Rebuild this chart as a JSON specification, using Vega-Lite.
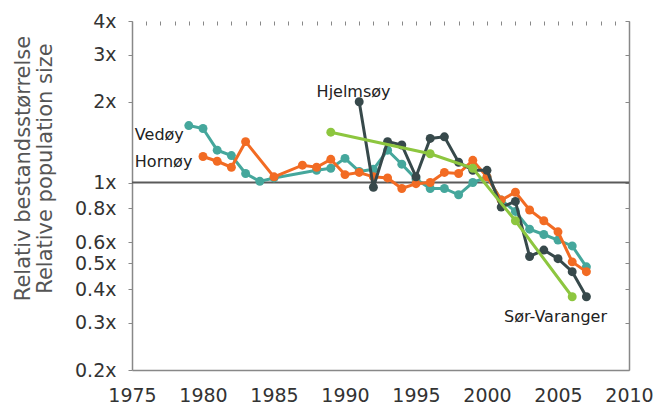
{
  "$schema": "https://vega.github.io/schema/vega-lite/v6.json",
  "width": 497,
  "height": 349,
  "autosize": "none",
  "padding": {"left": 132, "top": 21, "right": 26, "bottom": 36},
  "background": "white",
  "config": {
    "view": {"stroke": null},
    "font": "DejaVu Sans",
    "axis": {"labelFont": "DejaVu Sans", "titleFont": "DejaVu Sans", "grid": false, "labelOverlap": false, "labelFlush": false}
  },
  "datasets": {
    "series": [
      {"site": "Vedøy", "year": 1979, "value": 1.63},
      {"site": "Vedøy", "year": 1980, "value": 1.59},
      {"site": "Vedøy", "year": 1981, "value": 1.32},
      {"site": "Vedøy", "year": 1982, "value": 1.26},
      {"site": "Vedøy", "year": 1983, "value": 1.08},
      {"site": "Vedøy", "year": 1984, "value": 1.01},
      {"site": "Vedøy", "year": 1985, "value": 1.04},
      {"site": "Vedøy", "year": 1988, "value": 1.11},
      {"site": "Vedøy", "year": 1989, "value": 1.13},
      {"site": "Vedøy", "year": 1990, "value": 1.23},
      {"site": "Vedøy", "year": 1991, "value": 1.10},
      {"site": "Vedøy", "year": 1992, "value": 1.12},
      {"site": "Vedøy", "year": 1993, "value": 1.32},
      {"site": "Vedøy", "year": 1994, "value": 1.17},
      {"site": "Vedøy", "year": 1995, "value": 1.03},
      {"site": "Vedøy", "year": 1996, "value": 0.95},
      {"site": "Vedøy", "year": 1997, "value": 0.95},
      {"site": "Vedøy", "year": 1998, "value": 0.9},
      {"site": "Vedøy", "year": 1999, "value": 1.0},
      {"site": "Vedøy", "year": 2000, "value": 1.05},
      {"site": "Vedøy", "year": 2001, "value": 0.86},
      {"site": "Vedøy", "year": 2002, "value": 0.78},
      {"site": "Vedøy", "year": 2003, "value": 0.67},
      {"site": "Vedøy", "year": 2004, "value": 0.64},
      {"site": "Vedøy", "year": 2005, "value": 0.61},
      {"site": "Vedøy", "year": 2006, "value": 0.58},
      {"site": "Vedøy", "year": 2007, "value": 0.485},
      {"site": "Hornøy", "year": 1980, "value": 1.25},
      {"site": "Hornøy", "year": 1981, "value": 1.2},
      {"site": "Hornøy", "year": 1982, "value": 1.14},
      {"site": "Hornøy", "year": 1983, "value": 1.42},
      {"site": "Hornøy", "year": 1985, "value": 1.05},
      {"site": "Hornøy", "year": 1987, "value": 1.16},
      {"site": "Hornøy", "year": 1988, "value": 1.14},
      {"site": "Hornøy", "year": 1989, "value": 1.22},
      {"site": "Hornøy", "year": 1990, "value": 1.07},
      {"site": "Hornøy", "year": 1991, "value": 1.09},
      {"site": "Hornøy", "year": 1992, "value": 1.05},
      {"site": "Hornøy", "year": 1993, "value": 1.04},
      {"site": "Hornøy", "year": 1994, "value": 0.95},
      {"site": "Hornøy", "year": 1995, "value": 0.99},
      {"site": "Hornøy", "year": 1996, "value": 1.0},
      {"site": "Hornøy", "year": 1997, "value": 1.09},
      {"site": "Hornøy", "year": 1998, "value": 1.08},
      {"site": "Hornøy", "year": 1999, "value": 1.21},
      {"site": "Hornøy", "year": 2000, "value": 1.05},
      {"site": "Hornøy", "year": 2001, "value": 0.86},
      {"site": "Hornøy", "year": 2002, "value": 0.92},
      {"site": "Hornøy", "year": 2003, "value": 0.79},
      {"site": "Hornøy", "year": 2004, "value": 0.72},
      {"site": "Hornøy", "year": 2005, "value": 0.655},
      {"site": "Hornøy", "year": 2006, "value": 0.506},
      {"site": "Hornøy", "year": 2007, "value": 0.465},
      {"site": "Hjelmsøy", "year": 1991, "value": 2.0},
      {"site": "Hjelmsøy", "year": 1992, "value": 0.96},
      {"site": "Hjelmsøy", "year": 1993, "value": 1.42},
      {"site": "Hjelmsøy", "year": 1994, "value": 1.38},
      {"site": "Hjelmsøy", "year": 1995, "value": 1.05},
      {"site": "Hjelmsøy", "year": 1996, "value": 1.46},
      {"site": "Hjelmsøy", "year": 1997, "value": 1.48},
      {"site": "Hjelmsøy", "year": 1998, "value": 1.19},
      {"site": "Hjelmsøy", "year": 1999, "value": 1.11},
      {"site": "Hjelmsøy", "year": 2000, "value": 1.11},
      {"site": "Hjelmsøy", "year": 2001, "value": 0.81},
      {"site": "Hjelmsøy", "year": 2002, "value": 0.85},
      {"site": "Hjelmsøy", "year": 2003, "value": 0.53},
      {"site": "Hjelmsøy", "year": 2004, "value": 0.56},
      {"site": "Hjelmsøy", "year": 2005, "value": 0.52},
      {"site": "Hjelmsøy", "year": 2006, "value": 0.465},
      {"site": "Hjelmsøy", "year": 2007, "value": 0.375},
      {"site": "Sør-Varanger", "year": 1989, "value": 1.54},
      {"site": "Sør-Varanger", "year": 1996, "value": 1.28},
      {"site": "Sør-Varanger", "year": 1999, "value": 1.13},
      {"site": "Sør-Varanger", "year": 2002, "value": 0.72},
      {"site": "Sør-Varanger", "year": 2006, "value": 0.375}
    ],
    "labels": [
      {"text": "Vedøy", "year": 1975.2, "value": 1.44},
      {"text": "Hornøy", "year": 1975.2, "value": 1.143},
      {"text": "Hjelmsøy", "year": 1988.0, "value": 2.08},
      {"text": "Sør-Varanger", "year": 2001.2, "value": 0.302}
    ],
    "ref": [{"value": 1}]
  },
  "layer": [
    {
      "data": {"name": "ref"},
      "mark": {"type": "rule", "color": "#5a5a5a", "strokeWidth": 2},
      "encoding": {
        "y": {
          "field": "value", "type": "quantitative",
          "scale": {"type": "log", "domain": [0.2, 4], "nice": false},
          "axis": {
            "orient": "left",
            "values": [0.2, 0.3, 0.4, 0.5, 0.6, 0.8, 1, 2, 3, 4],
            "labelExpr": "datum.value + 'x'",
            "labelFontSize": 19,
            "labelColor": "#333333",
            "labelPadding": 12,
            "tickSize": 4,
            "tickColor": "#888888",
            "domainColor": "#888888",
            "domainWidth": 1.5,
            "title": ["Relativ bestandsstørrelse", "Relative population size"],
            "titleFontSize": 21,
            "titleFontWeight": "normal",
            "titleColor": "#555555",
            "titleLineHeight": 22,
            "titlePadding": 19,
            "titleY": 147
          }
        }
      }
    },
    {
      "data": {"name": "series"},
      "transform": [{"filter": "datum.site === 'Vedøy'"}],
      "mark": {"type": "line", "strokeWidth": 3, "point": {"filled": true, "size": 80}},
      "encoding": {
        "x": {
          "field": "year", "type": "quantitative",
          "scale": {"domain": [1975, 2010], "nice": false, "zero": false},
          "axis": {
            "values": [1975, 1980, 1985, 1990, 1995, 2000, 2005, 2010],
            "format": "d",
            "labelFontSize": 19,
            "labelColor": "#333333",
            "labelPadding": 16,
            "labelOverlap": false,
            "ticks": false,
            "domainColor": "#888888",
            "domainWidth": 1.5,
            "title": null
          }
        },
        "y": {
          "field": "value", "type": "quantitative",
          "axis": {
            "orient": "right",
            "values": [0.2, 0.3, 0.4, 0.5, 0.6, 0.8, 1, 2, 3, 4],
            "labels": false,
            "tickSize": -4,
            "tickColor": "#888888",
            "domainColor": "#888888",
            "domainWidth": 1.5,
            "title": null
          }
        },
        "color": {
          "field": "site", "type": "nominal",
          "scale": {"domain": ["Vedøy", "Hornøy", "Hjelmsøy", "Sør-Varanger"], "range": ["#45a79c", "#f26b23", "#37494b", "#8dc63f"]},
          "legend": null
        }
      }
    },
    {
      "data": {"name": "series"},
      "transform": [{"filter": "datum.site === 'Hornøy'"}],
      "mark": {"type": "line", "strokeWidth": 3, "point": {"filled": true, "size": 80}},
      "encoding": {
        "x": {
          "field": "year", "type": "quantitative",
          "axis": {
            "values": [1975,1976,1977,1978,1979,1980,1981,1982,1983,1984,1985,1986,1987,1988,1989,1990,1991,1992,1993,1994,1995,1996,1997,1998,1999,2000,2001,2002,2003,2004,2005,2006,2007,2008,2009,2010],
            "labels": false,
            "domain": false,
            "tickSize": -4,
            "tickColor": "#888888",
            "tickWidth": 1,
            "title": null
          }
        },
        "y": {"field": "value", "type": "quantitative", "axis": null},
        "color": {"field": "site", "type": "nominal", "legend": null}
      }
    },
    {
      "data": {"name": "series"},
      "transform": [{"filter": "datum.site === 'Hjelmsøy'"}],
      "mark": {"type": "line", "strokeWidth": 3, "point": {"filled": true, "size": 80}},
      "encoding": {
        "x": {"field": "year", "type": "quantitative", "axis": null},
        "y": {"field": "value", "type": "quantitative", "axis": null},
        "color": {"field": "site", "type": "nominal", "legend": null}
      }
    },
    {
      "data": {"name": "series"},
      "transform": [{"filter": "datum.site === 'Sør-Varanger'"}],
      "mark": {"type": "line", "strokeWidth": 3, "point": {"filled": true, "size": 80}},
      "encoding": {
        "x": {"field": "year", "type": "quantitative", "axis": null},
        "y": {"field": "value", "type": "quantitative", "axis": null},
        "color": {"field": "site", "type": "nominal", "legend": null}
      }
    },
    {
      "data": {"name": "labels"},
      "mark": {"type": "text", "align": "left", "baseline": "alphabetic", "fontSize": 16, "font": "DejaVu Sans", "color": "#222222"},
      "encoding": {
        "x": {"field": "year", "type": "quantitative", "axis": null},
        "y": {"field": "value", "type": "quantitative", "axis": null},
        "text": {"field": "text"}
      }
    }
  ],
  "resolve": {"axis": {"x": "independent", "y": "independent"}}
}
